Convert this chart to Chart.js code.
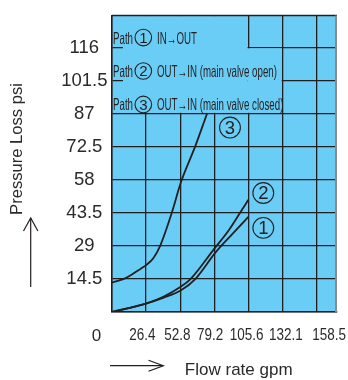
<!DOCTYPE html>
<html><head><meta charset="utf-8">
<script src="https://cdn.jsdelivr.net/npm/chart.js@4.4.1/dist/chart.umd.min.js"></script>
<style>html,body{margin:0;padding:0;background:#fff;overflow:hidden}#wrap{width:348px;height:380px;position:relative}</style>
</head><body><div id="wrap"><canvas id="c" width="348" height="380"></canvas></div>
<script>
// ---- data ----
const xTicks = [0, 26.4, 52.8, 79.2, 105.6, 132.1, 158.5];
const xTickLabels = ['0', '26.4', '52.8', '79.2', '105.6', '132.1', '158.5'];
const yTicks = [0, 14.5, 29, 43.5, 58, 72.5, 87, 101.5, 116];
const yTickLabels = ['0', '14.5', '29', '43.5', '58', '72.5', '87', '101.5', '116'];

const path1Flow = [0, 26.9, 40.1, 53.2, 64.3, 79.3, 84.4, 96.6, 105.6];
const path1Loss = [0, 3.8, 6.3, 9.4, 14.3, 25.5, 28.9, 36.2, 41.7];
const path2Flow = [0, 26.9, 40.1, 53.2, 60.4, 79.3, 90.9, 99.2, 105.6];
const path2Loss = [0, 3.8, 6.8, 11.1, 14.2, 27.8, 36.2, 43.5, 49.2];
const path3Flow = [0, 11.4, 21.7, 26.9, 32.0, 37.2, 46.3, 53.5, 64.3, 73.8];
const path3Loss = [12.9, 15.1, 18.8, 20.8, 23.6, 28.9, 43.5, 57.1, 72.4, 87.3];

const legendNums = ['1', '2', '3'];
const legendTexts = ['IN\u2192OUT', 'OUT\u2192IN (main valve open)', 'OUT\u2192IN (main valve closed)'];
const tagNums = ['1', '2', '3'];
const tagFlow = [117.2, 117.2, 91.4];
const tagLoss = [36.9, 52.2, 80.9];

const xTitle = 'Flow rate gpm';
const yTitle = 'Pressure Loss psi';

// ---- style ----
const BLUE = '#6ACDF5';
const INK = '#231F20';
const TXT = '#2a2a2a';
const NARROW = "'Liberation Sans Narrow','Liberation Sans',Arial,sans-serif";
const REG = "'Liberation Sans',Arial,sans-serif";
const xLabelNudge = [0, -3.6, -2.7, -4.2, -1.6, 3.3, 12.4];

function pts(xs, ys) { return xs.map((x, i) => ({x: x, y: ys[i]})); }
function ds(xs, ys) {
  return { data: pts(xs, ys), borderColor: INK, borderWidth: 1.8, pointRadius: 0,
           fill: false, cubicInterpolationMode: 'monotone' };
}

function circ(ctx, cx, cy, r, num, size) {
  ctx.beginPath(); ctx.arc(cx, cy, r, 0, Math.PI * 2);
  ctx.lineWidth = 1.1; ctx.strokeStyle = INK; ctx.stroke();
  ctx.fillStyle = INK; ctx.font = size + 'px ' + REG;
  ctx.textAlign = 'center'; ctx.textBaseline = 'middle';
  ctx.fillText(num, cx, cy + 1);
}

const deco = {
  id: 'deco',
  beforeDraw(chart) {
    const {ctx, chartArea: a} = chart;
    ctx.save();
    ctx.fillStyle = '#fff'; ctx.fillRect(0, 0, chart.width, chart.height);
    ctx.fillStyle = BLUE; ctx.fillRect(a.left, a.top, a.right - a.left, a.bottom - a.top);
    ctx.restore();
  },
  beforeDatasetsDraw(chart) {
    const {ctx, chartArea: a, scales: {x, y}} = chart;
    ctx.save();
    ctx.fillStyle = BLUE;
    const xa = x.getPixelForValue(105.6), xb = x.getPixelForValue(132.1);
    const y116 = y.getPixelForValue(116), y87 = y.getPixelForValue(87);
    const l = a.left + 11;
    ctx.fillRect(l, a.top + 0.5, xa - 0.8 - l, y87 - 0.8 - a.top - 0.5);
    ctx.fillRect(xa - 0.9, y116 + 0.8, xb - 0.8 - (xa - 0.9), y87 - 0.8 - (y116 + 0.8));
    // frame
    ctx.strokeStyle = INK; ctx.lineWidth = 1.5;
    ctx.beginPath(); ctx.moveTo(a.left, a.top); ctx.lineTo(a.right, a.top); ctx.stroke();
    ctx.strokeStyle = '#8a8a8a'; ctx.lineWidth = 2;
    ctx.beginPath(); ctx.moveTo(a.right - 1, a.top); ctx.lineTo(a.right - 1, a.bottom); ctx.stroke();
    ctx.restore();
  },
  afterDatasetsDraw(chart) {
    const {ctx, chartArea: a, scales: {x, y}} = chart;
    ctx.save();
    // legend rows
    ctx.font = '16.5px ' + NARROW;
    const s = 20 / ctx.measureText('Path').width;
    for (let i = 0; i < legendTexts.length; i++) {
      const base = a.top + 28 + i * 33.4;
      ctx.save();
      ctx.fillStyle = INK; ctx.textAlign = 'left'; ctx.textBaseline = 'alphabetic';
      ctx.font = '16.5px ' + NARROW;
      ctx.translate(a.left + 1, base); ctx.scale(s, 1);
      ctx.fillText('Path', 0, 0);
      ctx.restore();
      ctx.save();
      ctx.fillStyle = INK; ctx.textAlign = 'left'; ctx.textBaseline = 'alphabetic';
      ctx.font = '16.5px ' + NARROW;
      ctx.translate(a.left + 45, base); ctx.scale(s, 1);
      ctx.fillText(legendTexts[i], 0, 0);
      ctx.restore();
      circ(ctx, a.left + 31.3, base - 6, 8.3, legendNums[i], 15);
    }
    // curve tags
    for (let i = 0; i < tagNums.length; i++) {
      circ(ctx, x.getPixelForValue(tagFlow[i]), y.getPixelForValue(tagLoss[i]), 10.4, tagNums[i], 18.5);
    }
    // x tick labels (condensed face)
    ctx.font = '16.5px ' + REG;
    const sx = 7.5 / ctx.measureText('0').width;
    for (let i = 1; i < xTicks.length; i++) {
      ctx.save();
      ctx.fillStyle = TXT; ctx.textAlign = 'center'; ctx.textBaseline = 'alphabetic';
      ctx.translate(x.getPixelForValue(xTicks[i]) + xLabelNudge[i], a.bottom + 28);
      ctx.scale(sx, 1);
      ctx.fillText(xTickLabels[i], 0, 0);
      ctx.restore();
    }
    // origin label
    ctx.fillStyle = TXT; ctx.font = '17px ' + REG; ctx.textAlign = 'center'; ctx.textBaseline = 'middle';
    ctx.fillText(xTickLabels[0], 96.5, 336.5);
    // y title + arrow
    ctx.save();
    ctx.translate(21.5, 149); ctx.rotate(-Math.PI / 2);
    ctx.font = '16.6px ' + REG; ctx.textAlign = 'center'; ctx.textBaseline = 'alphabetic';
    ctx.fillText(yTitle, 0, 0);
    ctx.restore();
    ctx.strokeStyle = INK; ctx.lineWidth = 1.2;
    ctx.beginPath(); ctx.moveTo(30.7, 287); ctx.lineTo(30.7, 218); ctx.stroke();
    ctx.beginPath(); ctx.moveTo(23.5, 231); ctx.lineTo(30.7, 218); ctx.lineTo(37.9, 231); ctx.stroke();
    // x title + arrow
    ctx.font = '17px ' + REG; ctx.textAlign = 'center'; ctx.textBaseline = 'alphabetic';
    ctx.fillText(xTitle, 238.7, 375);
    ctx.beginPath(); ctx.moveTo(110, 365.7); ctx.lineTo(163, 365.7); ctx.stroke();
    ctx.beginPath(); ctx.moveTo(148.5, 360.2); ctx.lineTo(163.3, 365.7); ctx.lineTo(148.5, 371.2); ctx.stroke();
    ctx.restore();
  }
};

new Chart(document.getElementById('c').getContext('2d'), {
  type: 'line',
  data: { datasets: [ds(path1Flow, path1Loss), ds(path2Flow, path2Loss), ds(path3Flow, path3Loss)] },
  options: {
    responsive: false, animation: false, devicePixelRatio: 1,
    layout: { padding: { left: 0, right: 11, top: 7, bottom: 0 } },
    plugins: { legend: { display: false }, tooltip: { enabled: false } },
    scales: {
      x: {
        type: 'linear', min: 0, max: 174.3,
        afterBuildTicks: s => { s.ticks = xTicks.map(v => ({ value: v })); },
        afterFit: s => { s.height = 68; },
        grid: { color: INK, lineWidth: 1.3, drawTicks: false },
        border: { color: INK, width: 1.5 },
        ticks: { display: false }
      },
      y: {
        type: 'linear', min: 0, max: 130,
        afterBuildTicks: s => { s.ticks = yTicks.map(v => ({ value: v })); },
        afterFit: s => { s.width = 112; },
        grid: { color: INK, lineWidth: 1.3, drawTicks: false },
        border: { color: INK, width: 1.5 },
        ticks: { autoSkip: false, crossAlign: 'center', padding: 4.5, color: TXT,
                 font: { family: REG, size: 18.5 },
                 callback: (v, i) => i === 0 ? '' : yTickLabels[i] }
      }
    }
  },
  plugins: [deco]
});
</script></body></html>
